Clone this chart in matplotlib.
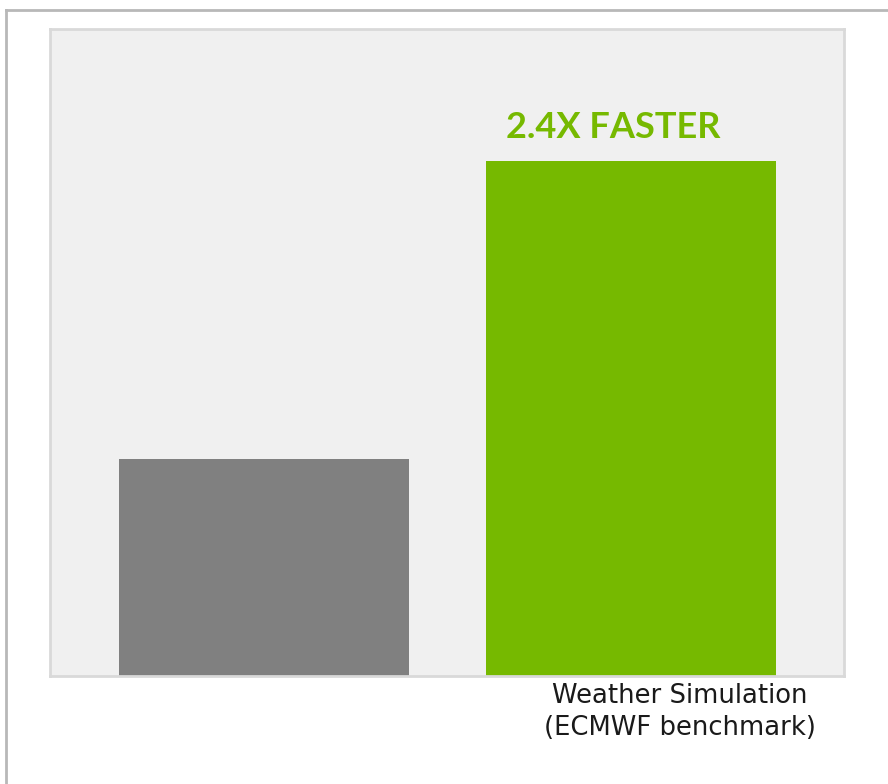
import matplotlib
matplotlib.use("Agg")
import matplotlib.pyplot as plt
from matplotlib.lines import Line2D

categories = ["Baseline", "Accelerated"]
values = [1.0, 2.37]
colors = ["#808080", "#76b900"]
annotation = "2.4X FASTER"
xlabel = "Weather Simulation\n(ECMWF benchmark)"

W, H = 888, 784
fig = plt.figure(figsize=(W / 100, H / 100), dpi=100)
fig.patch.set_facecolor("white")

# outer border (top and left only visible)
fig.add_artist(Line2D([5.5 / W, 1], [1 - 9.5 / H, 1 - 9.5 / H], transform=fig.transFigure,
                      color="#b8b8b8", linewidth=2))
fig.add_artist(Line2D([5.5 / W, 5.5 / W], [0, 1 - 9.5 / H], transform=fig.transFigure,
                      color="#b8b8b8", linewidth=2))

ax = fig.add_axes([50 / W, 1 - 676 / H, 794 / W, 647 / H])
ax.set_facecolor("#f0f0f0")
for s in ax.spines.values():
    s.set_edgecolor("#d9d9d9")
    s.set_linewidth(2)

x = list(range(len(categories)))
ax.bar(x, values, width=0.79, color=colors, zorder=2)
ax.set_xlim(-0.583, 1.58)
ax.set_ylim(0, 2.98)
ax.set_xticks([])
ax.set_yticks([])

ax.text(x[1] - 0.05, values[1] + 0.08, annotation, ha="center", va="bottom",
        color="#76b900", fontsize=26, fontweight="bold", family=["Lato", "DejaVu Sans"])

fig.text(680 / W, 1 - 683 / H, xlabel, ha="center", va="top",
         fontsize=18.6, color="#1a1a1a", linespacing=1.3, family="DejaVu Sans")

fig.savefig("out.png", dpi=100)
